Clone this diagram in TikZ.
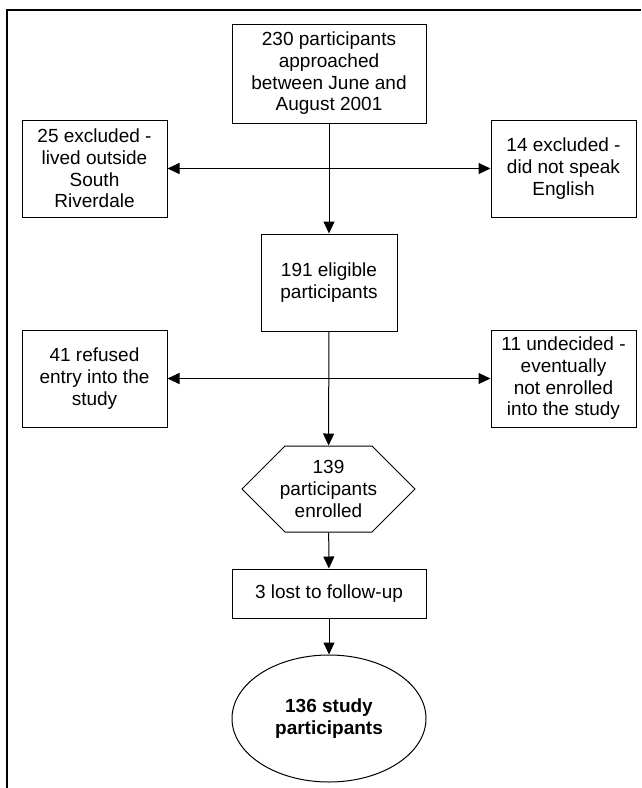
\documentclass[tikz,border=0pt]{standalone}
\usepackage{fontspec}
\setmainfont{Liberation Sans}
\usetikzlibrary{arrows.meta,shapes.geometric}
\begin{document}
\begin{tikzpicture}[x=1pt, y=-1pt, line width=1pt,
		stage/.style={draw=black, align=center, inner sep=2pt, font=\fontsize{19}{21.7}\selectfont},
		flow/.style={-{Triangle[length=12pt,width=11pt]}},
		split/.style={{Triangle[length=12pt,width=11pt]}-{Triangle[length=12pt,width=11pt]}}]
			\useasboundingbox (0,0) rectangle (641,788);
			\draw [line width=2pt] (7,788) -- (7,10) -- (641,10);
			\node[stage, minimum width=194pt, minimum height=99pt] (start) at (329, 73.5) {230 participants\\approached\\between June and\\August 2001};
			\node[stage, minimum width=145pt, minimum height=97pt] (outside) at (94.5, 168.5) {25 excluded -\\lived outside\\South\\Riverdale};
			\node[stage, minimum width=145pt, minimum height=97pt] (english) at (563.5, 168.5) {14 excluded -\\did not speak\\English};
			\node[stage, minimum width=136pt, minimum height=97pt] (eligible) at (329, 282.5) {191 eligible\\participants};
			\node[stage, minimum width=145pt, minimum height=97pt] (refused) at (94.5, 378.5) {41 refused\\entry into the\\study};
			\node[stage, minimum width=145pt, minimum height=97pt] (undecided) at (563.5, 378.5) {11 undecided -\\eventually\\not enrolled\\into the study};
			\node[stage, draw=none, inner sep=0pt, minimum height=86pt] (enrolled) at (328.5, 489) {139\\participants\\enrolled};
			\draw ([shift={(-43.5,-43)}]enrolled.center) -- ([shift={(43.5,-43)}]enrolled.center) -- ([shift={(86.5,0)}]enrolled.center) -- ([shift={(43.5,43)}]enrolled.center) -- ([shift={(-43.5,43)}]enrolled.center) -- ([shift={(-86.5,0)}]enrolled.center) -- cycle;
			\node[stage, minimum width=194pt, minimum height=49pt] (lost) at (329, 593.5) {3 lost to follow-up};
			\node[stage, ellipse, inner sep=0pt, minimum width=194pt, minimum height=127pt] (final) at (329, 718.5) {\bfseries 136 study\\\bfseries participants};
			\draw [flow] (start) -- (eligible);
			\draw [split] (outside) -- (english);
			\draw [flow] (eligible) -- (enrolled);
			\draw [split] (refused) -- (undecided);
			\draw [flow] (enrolled) -- (lost);
			\draw [flow] (lost) -- (final);
		\end{tikzpicture}
\end{document}
